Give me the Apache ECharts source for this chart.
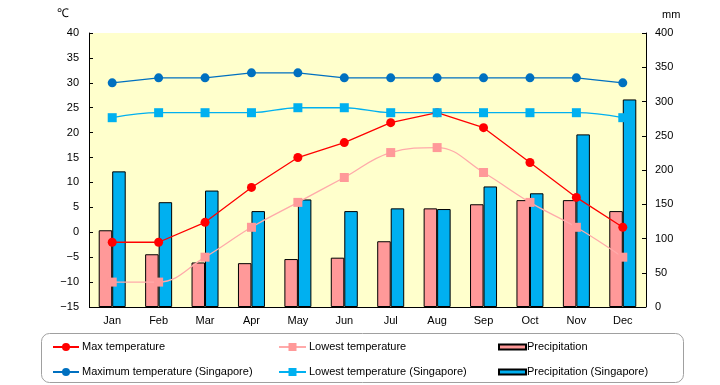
<!DOCTYPE html>
<html><head><meta charset="utf-8">
<script src="https://cdn.jsdelivr.net/npm/echarts@6/dist/echarts.min.js"></script>
<style>html,body{margin:0;padding:0;background:#fff}#c{width:720px;height:385px}</style>
</head><body><div id="c"></div>
<script>
const months = ['Jan','Feb','Mar','Apr','May','Jun','Jul','Aug','Sep','Oct','Nov','Dec'];
const maxTemp = [-2,-2,2,9,15,18,22,24,21,14,7,1];
const lowTemp = [-10,-10,-5,1,6,11,16,17,12,6,1,-5];
const precip = [112,77,65,64,70,72,96,144,150,156,156,140];
const maxTempSg = [30,31,31,32,32,31,31,31,31,31,31,30];
const lowTempSg = [23,24,24,24,25,25,24,24,24,24,24,23];
const precipSg = [198,153,170,140,157,140,144,143,176,166,252,303];
const tempTicks = {min:-15, max:40, interval:5};
const precipTicks = {min:0, max:400, interval:50};

const FONT = 'sans-serif';
const chart = echarts.init(document.getElementById('c'));
const lineSeries = (name, data, color, lineColor, symbol, smooth) => ({
  name, type:'line', data, yAxisIndex:0, symbol, symbolSize: symbol==='rect'?9:9,
  smooth: smooth ? 0.4 : false,
  itemStyle:{color}, lineStyle:{color:lineColor, width:1.3}, z:5
});
const legendText = (pad) => ({fontSize:11, color:'#000', lineHeight:14, padding:[0,0,0,pad]});
chart.setOption({
  animation:false,
  textStyle:{fontFamily:FONT},
  grid:{left:89, right:74, top:33, bottom:78, show:true, backgroundColor:'#FFFFCC', borderWidth:0},
  xAxis:{type:'category', data:months, axisLine:{show:false}, axisTick:{show:false},
    axisLabel:{color:'#000', fontSize:11, margin:8, fontFamily:FONT}},
  yAxis:[
    {type:'value', min:tempTicks.min, max:tempTicks.max, interval:tempTicks.interval, position:'left',
     axisLine:{show:true, lineStyle:{color:'#000', width:1}}, axisTick:{show:true, inside:true, length:4, lineStyle:{color:'#000'}},
     splitLine:{show:false}, axisLabel:{color:'#000', fontSize:11, margin:10, formatter:v=>String(v).replace('-','\u2212')}},
    {type:'value', min:precipTicks.min, max:precipTicks.max, interval:precipTicks.interval, position:'right',
     axisLine:{show:true, lineStyle:{color:'#000', width:1}}, axisTick:{show:true, inside:true, length:4, lineStyle:{color:'#000'}},
     splitLine:{show:false}, axisLabel:{color:'#000', fontSize:11, margin:9}}
  ],
  legend:[
    {left:52, top:340, padding:0, orient:'vertical', itemGap:11, itemWidth:26, itemHeight:10,
     textStyle:legendText(-2), data:['Max temperature','Maximum temperature (Singapore)']},
    {left:278, top:340, padding:0, orient:'vertical', itemGap:11, itemWidth:27, itemHeight:10,
     textStyle:legendText(-2), data:['Lowest temperature','Lowest temperature (Singapore)']},
    {left:498, top:340, padding:0, orient:'vertical', itemGap:11, itemWidth:27, itemHeight:5,
     textStyle:legendText(-4), data:[{name:'Precipitation', icon:'rect'},{name:'Precipitation (Singapore)', icon:'rect'}]}
  ],
  graphic:[
    {type:'rect', shape:{x:41.5, y:333.5, width:642, height:49, r:8}, style:{fill:'none', stroke:'#A0A0A0', lineWidth:1}, silent:true},
    {type:'text', left:57, top:8, style:{text:'\u2103', fontSize:12, fill:'#000', fontFamily:FONT}},
    {type:'text', left:662, top:9, style:{text:'mm', fontSize:11, fill:'#000', fontFamily:FONT}}
  ],
  series:[
    {name:'Precipitation', type:'bar', yAxisIndex:1, data:precip, barWidth:13.5, barGap:'0%',
     itemStyle:{color:'#FF9999', borderColor:'#000', borderWidth:1}, z:2},
    {name:'Precipitation (Singapore)', type:'bar', yAxisIndex:1, data:precipSg, barWidth:13.5, barGap:'0%',
     itemStyle:{color:'#00B0F0', borderColor:'#000', borderWidth:1}, z:2,
     markLine:{silent:true, symbol:'none', label:{show:false}, lineStyle:{color:'#000', width:1.2, type:'solid'},
       data:[{yAxis:0}], animation:false}},
    lineSeries('Max temperature', maxTemp, '#FF0000', '#FF0000', 'circle', false),
    lineSeries('Lowest temperature', lowTemp, '#FF9999', '#FFAAAA', 'rect', true),
    lineSeries('Maximum temperature (Singapore)', maxTempSg, '#0070C0', '#0070C0', 'circle', false),
    lineSeries('Lowest temperature (Singapore)', lowTempSg, '#00B0F0', '#00B0F0', 'rect', true)
  ]
});
</script></body></html>
